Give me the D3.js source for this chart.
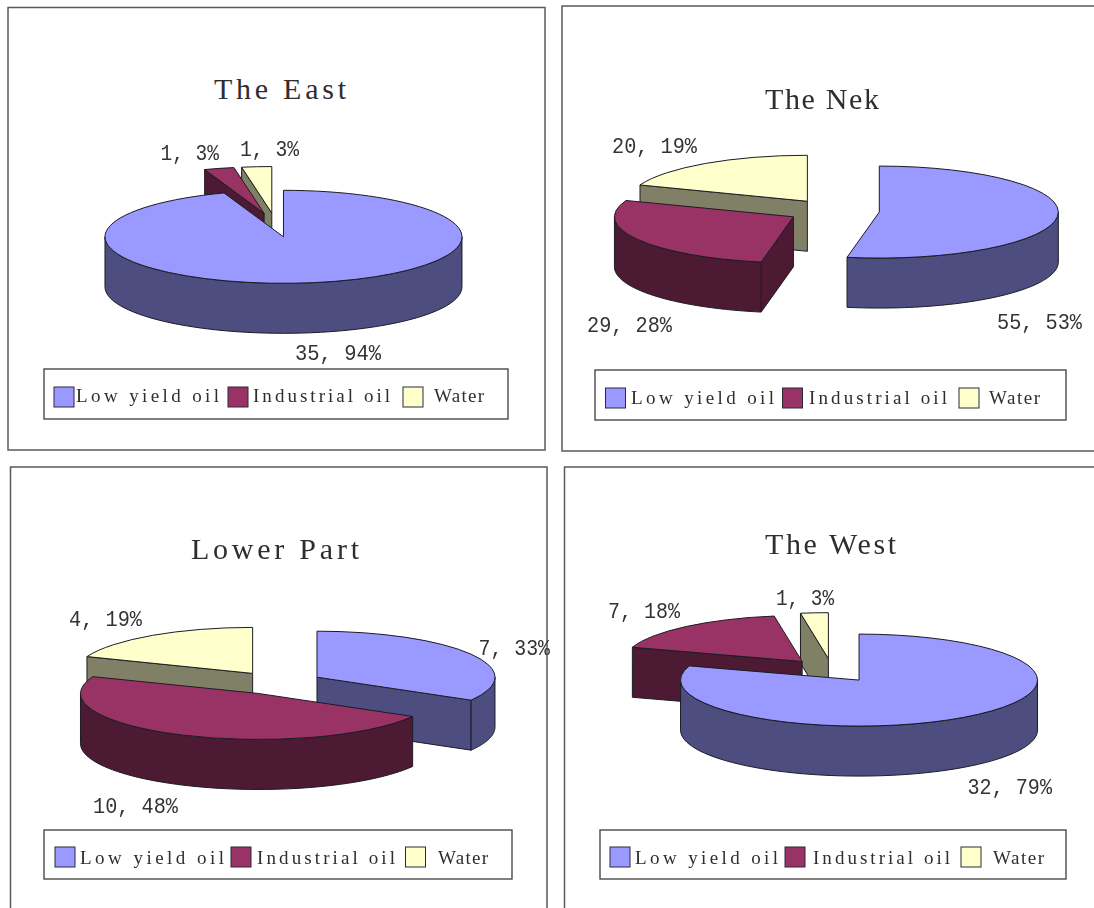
<!DOCTYPE html>
<html>
<head>
<meta charset="utf-8">
<script src="https://cdnjs.cloudflare.com/ajax/libs/d3/7.8.5/d3.min.js"></script>
<style>
html,body{margin:0;padding:0;background:#fff;overflow:hidden}
svg{display:block;filter:blur(0.35px)}
text{font-family:"Liberation Serif",serif;fill:#2e2e2e;white-space:pre}
text.dataLabel{font-family:"Liberation Mono",monospace;fill:#333}
</style>
</head>
<body>
<svg id="chart" width="1094" height="908"></svg>
<script>
// ---------- data ----------
const categories = ["Low yield oil", "Industrial oil", "Water"];
const panelTitles = ["The East", "The Nek", "Lower Part", "The West"];
const eastValues  = [35, 1, 1];
const nekValues   = [55, 29, 20];
const lowerValues = [7, 10, 4];
const westValues  = [32, 7, 1];
const eastPercents  = ["94%", "3%", "3%"];
const nekPercents   = ["53%", "28%", "19%"];
const lowerPercents = ["33%", "48%", "19%"];
const westPercents  = ["79%", "18%", "3%"];

// ---------- styles ----------
const topColors  = ["#9999ff", "#993366", "#ffffcc"];
const sideColors = ["#4d4d80", "#4d1a33", "#808066"];

// ---------- layout of each panel ----------
const layouts = [
  { frame:[8,7.5,545,450], cx:275.7, cy:225, rx:178.5, ry:46.5, depth:50, explode:46,
    title:[214,346,99],
    labels:[[295,381,360],[160.5,219,160],[240,299,156]],
    legendBox:[44,369,508,419], swatchX:[54,228,403], swatchY:387,
    legendText:[[76,219],[253,390],[434,484]], legendBase:402 },
  { frame:[562,6,1110,451], cx:833.5, cy:211, rx:179, ry:46, depth:50, explode:46,
    title:[765,879,109],
    labels:[[997,1082,329],[587,672,332],[612,697,153]],
    legendBox:[595,370,1066,420], swatchX:[605.5,782.5,959], swatchY:388,
    legendText:[[631,774],[809,947],[989,1040]], legendBase:404 },
  { frame:[10.5,467,547,930], cx:278, cy:683, rx:178, ry:46, depth:50, explode:45,
    title:[191,359,559],
    labels:[[478.5,550,655],[93,178,813],[69,142,626]],
    legendBox:[44,830,512,879], swatchX:[55,231,405.5], swatchY:847,
    legendText:[[80,224],[257,395],[438,488]], legendBase:864 },
  { frame:[564.5,467,1110,930], cx:832, cy:670.5, rx:178.5, ry:46, depth:50, explode:46,
    title:[765,896,554],
    labels:[[967.5,1052,794],[608,680,618],[776,834,605]],
    legendBox:[600,830,1066,879], swatchX:[610,785,961], swatchY:847,
    legendText:[[635,778],[813,950],[993,1044]], legendBase:864 }
];
const panelValues = [eastValues, nekValues, lowerValues, westValues];
const panelPercents = [eastPercents, nekPercents, lowerPercents, westPercents];

// ---------- drawing ----------
const svg = d3.select("#chart");
const TAU = Math.PI * 2;
const pie = d3.pie().sort(null).value(d => d);
const lineGen = d3.line();
const inkStroke = "#1c1c24";

function drawPanel(idx) {
  const L = layouts[idx], values = panelValues[idx], percents = panelPercents[idx];
  const g = svg.append("g");
  const k = L.ry / L.rx;
  const pt = (c, a, r) => [c[0] + r * Math.sin(a), c[1] - r * k * Math.cos(a)];

  g.append("rect")
    .attr("x", L.frame[0]).attr("y", L.frame[1])
    .attr("width", L.frame[2] - L.frame[0]).attr("height", L.frame[3] - L.frame[1])
    .attr("fill", "#fff").attr("stroke", "#5a5a5a").attr("stroke-width", 1.5);

  g.append("text").text(panelTitles[idx])
    .attr("x", L.title[0]).attr("y", L.title[2])
    .attr("font-size", 30)
    .attr("textLength", L.title[1] - L.title[0]).attr("lengthAdjust", "spacing");

  const arcs = pie(values).map((d, i) => {
    const mid = (d.startAngle + d.endAngle) / 2;
    return { ...d, i, center: pt([L.cx, L.cy], mid, L.explode) };
  }).sort((a, b) => a.center[1] - b.center[1]);

  const arcGen = d3.arc().innerRadius(0).outerRadius(L.rx);

  arcs.forEach(s => {
    const c = s.center, base = v => [v[0], v[1] + L.depth];
    const sg = g.append("g");
    const side = points => sg.append("path")
      .attr("d", lineGen(points) + "Z")
      .attr("fill", sideColors[s.i]).attr("stroke", inkStroke)
      .attr("stroke-width", 1).attr("stroke-linejoin", "round");

    // cut faces that turn toward the viewer
    if (Math.sin(s.startAngle) < -1e-6) {
      const a = pt(c, s.startAngle, L.rx);
      side([c, a, base(a), base(c)]);
    }
    if (Math.sin(s.endAngle) > 1e-6) {
      const a = pt(c, s.endAngle, L.rx);
      side([c, a, base(a), base(c)]);
    }
    // rounded outer wall on the front half
    const a0 = Math.max(s.startAngle, TAU / 4), a1 = Math.min(s.endAngle, 3 * TAU / 4);
    if (a1 > a0) {
      const angles = d3.range(0, 61).map(t => a0 + (a1 - a0) * t / 60);
      const upper = angles.map(a => pt(c, a, L.rx));
      side(upper.concat(upper.slice().reverse().map(base)));
    }
    // top face
    sg.append("path")
      .attr("d", arcGen(s))
      .attr("transform", `translate(${c[0]},${c[1]}) scale(1,${k})`)
      .attr("vector-effect", "non-scaling-stroke")
      .attr("fill", topColors[s.i]).attr("stroke", inkStroke)
      .attr("stroke-width", 1).attr("stroke-linejoin", "round");
  });

  // data labels
  values.forEach((v, i) => {
    const p = L.labels[i];
    g.append("text").attr("class", "dataLabel").text(`${v}, ${percents[i]}`)
      .attr("x", p[0]).attr("y", p[2]).attr("font-size", 22)
      .attr("textLength", p[1] - p[0]).attr("lengthAdjust", "spacingAndGlyphs");
  });

  // legend
  const b = L.legendBox;
  g.append("rect").attr("x", b[0]).attr("y", b[1])
    .attr("width", b[2] - b[0]).attr("height", b[3] - b[1])
    .attr("fill", "#fff").attr("stroke", "#4a4a4a").attr("stroke-width", 1.4);
  categories.forEach((name, i) => {
    g.append("rect").attr("x", L.swatchX[i]).attr("y", L.swatchY)
      .attr("width", 20).attr("height", 20)
      .attr("fill", topColors[i]).attr("stroke", "#2a2a3a").attr("stroke-width", 1);
    g.append("text").text(name)
      .attr("x", L.legendText[i][0]).attr("y", L.legendBase).attr("font-size", 19)
      .attr("textLength", L.legendText[i][1] - L.legendText[i][0]).attr("lengthAdjust", "spacing");
  });
}
layouts.forEach((_, i) => drawPanel(i));
</script>
</body>
</html>
